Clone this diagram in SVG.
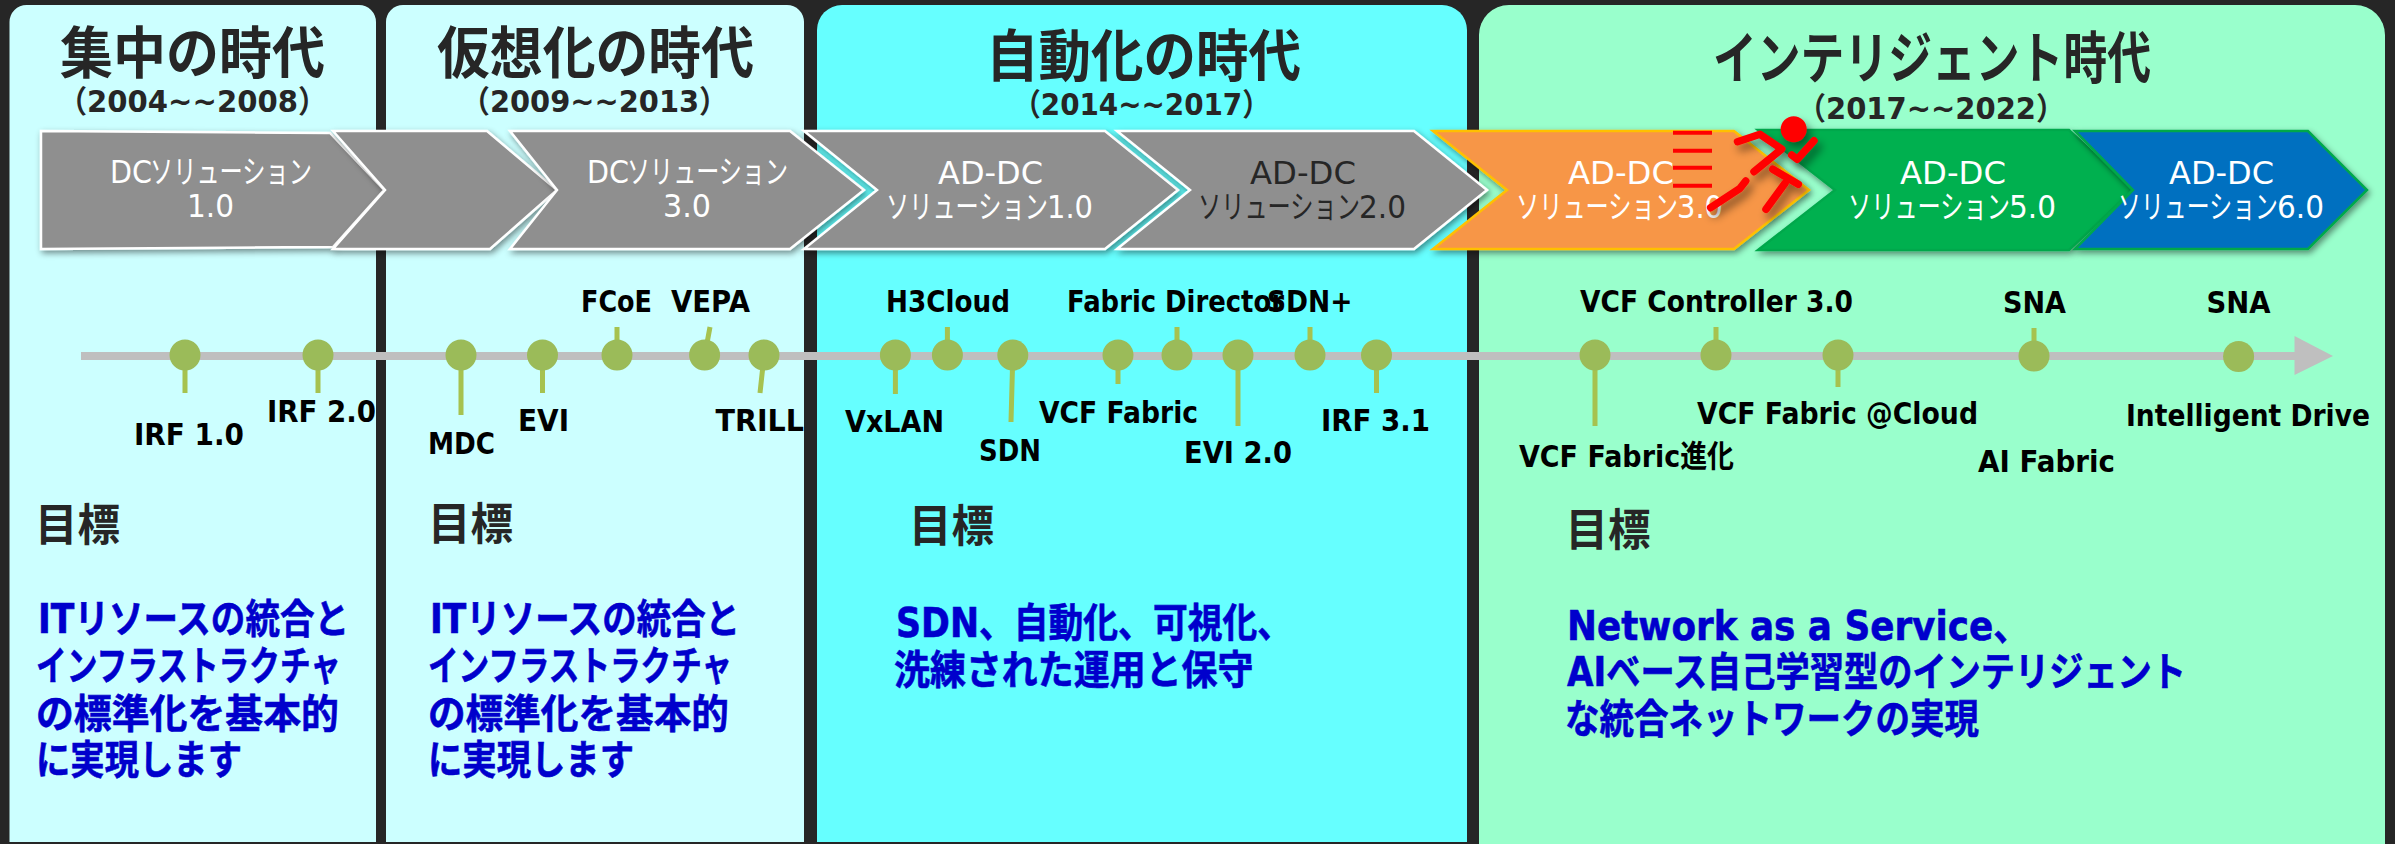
<svg xmlns="http://www.w3.org/2000/svg" width="2395" height="844" viewBox="0 0 2395 844">
<style>
text{font-family:"DejaVu Sans","Noto Sans CJK JP",sans-serif}
.title{font-family:"Noto Sans CJK JP","DejaVu Sans",sans-serif;font-weight:700;font-size:56px;fill:#262626}
.date{font-weight:700;font-size:31px;fill:#262626}
.lbl{font-weight:700;font-size:31px;fill:#000}
.goal{font-family:"Noto Sans CJK JP",sans-serif;font-weight:700;font-size:44px;fill:#262626}
.blue{font-weight:700;font-size:40px;fill:#0000cc;stroke:#0000cc;stroke-width:.6}
.cv{font-family:"DejaVu Sans","Noto Sans CJK JP",sans-serif;font-size:32px;fill:#fff}
.dark{fill:#262626}
.ch{stroke:#fff;stroke-width:2.5;stroke-linejoin:miter;fill:#8f8f8f;filter:url(#sh)}
.dot{fill:#9bbb59}
.stem{stroke:#a6c24f;stroke-width:5;fill:none}
.run{stroke:#f00;stroke-width:7.5;stroke-linecap:round;stroke-linejoin:round;fill:none}
.speed{stroke:#f00;stroke-width:4}
</style>
<defs>
<filter id="sh" x="-10%" y="-10%" width="120%" height="125%"><feDropShadow dx="2" dy="3" stdDeviation="3" flood-color="#000" flood-opacity=".45"/></filter>
<filter id="rs" x="-30%" y="-30%" width="170%" height="170%"><feDropShadow dx="4" dy="6" stdDeviation="4" flood-color="#000" flood-opacity=".45"/></filter>
</defs>
<rect id="background" width="2395" height="844" fill="#262626"/>
<g id="panels">
<path d="M9.500 842V22a17 17 0 0 1 17-17H359a17 17 0 0 1 17 17V842Z" fill="#ccffff"/>
<path d="M386 842V22a17 17 0 0 1 17-17H787a17 17 0 0 1 17 17V842Z" fill="#ccffff"/>
<path d="M817 842V30a25 25 0 0 1 25-25H1442a25 25 0 0 1 25 25V842Z" fill="#66ffff"/>
<path d="M1479 844V35a30 30 0 0 1 30-30H2355a30 30 0 0 1 30 30V844Z" fill="#99ffcc"/>
</g>
<g id="titles">
<text class="title" x="60" y="73" textLength="265" lengthAdjust="spacingAndGlyphs">集中の時代</text>
<text class="date" x="58" y="112" textLength="269" lengthAdjust="spacingAndGlyphs">（2004~~2008）</text>
<text class="title" x="437" y="73" textLength="317" lengthAdjust="spacingAndGlyphs">仮想化の時代</text>
<text class="date" x="461" y="112" textLength="267" lengthAdjust="spacingAndGlyphs">（2009~~2013）</text>
<text class="title" x="986" y="76" textLength="315" lengthAdjust="spacingAndGlyphs">自動化の時代</text>
<text class="date" x="1013" y="115" textLength="257" lengthAdjust="spacingAndGlyphs">（2014~~2017）</text>
<text class="title" x="1713" y="78" textLength="438" lengthAdjust="spacingAndGlyphs">インテリジェント時代</text>
<text class="date" x="1797" y="119" textLength="268" lengthAdjust="spacingAndGlyphs">（2017~~2022）</text>
</g>
<g id="chevron-dc1">
<polygon class="ch" points="41,131 330,133 384,190 333,247 41,249"/>
<text class="cv" y="183"><tspan x="110" textLength="42" lengthAdjust="spacingAndGlyphs">DC</tspan><tspan x="150" textLength="162" lengthAdjust="spacingAndGlyphs">ソリューション</tspan></text>
<text class="cv" x="187" y="217" textLength="47" lengthAdjust="spacingAndGlyphs">1.0</text>
</g>
<g id="chevron-dc2">
<polygon class="ch" points="333,131 487,131 557,190 490,249 333,249 385,190"/>
</g>
<g id="chevron-dc3">
<polygon class="ch" points="510,131 790,131 864,190 790,249 510,249 557,190"/>
<text class="cv" y="183"><tspan x="587" textLength="42" lengthAdjust="spacingAndGlyphs">DC</tspan><tspan x="627" textLength="161" lengthAdjust="spacingAndGlyphs">ソリューション</tspan></text>
<text class="cv" x="663" y="217" textLength="48" lengthAdjust="spacingAndGlyphs">3.0</text>
</g>
<g id="chevron-ad1">
<polygon class="ch" points="804,131 1105,131 1178,190 1105,249 804,249 877,190"/>
<text class="cv" x="938" y="184" textLength="105" lengthAdjust="spacingAndGlyphs">AD-DC</text>
<text class="cv" y="218"><tspan x="886" textLength="162" lengthAdjust="spacingAndGlyphs">ソリューション</tspan><tspan x="1047" textLength="46" lengthAdjust="spacingAndGlyphs">1.0</tspan></text>
</g>
<g id="chevron-ad2">
<polygon class="ch" points="1117,131 1414,131 1487,190 1414,249 1117,249 1190,190"/>
<text class="cv dark" x="1250" y="184" textLength="106" lengthAdjust="spacingAndGlyphs">AD-DC</text>
<text class="cv dark" y="218"><tspan x="1198" textLength="162" lengthAdjust="spacingAndGlyphs">ソリューション</tspan><tspan x="1359" textLength="47" lengthAdjust="spacingAndGlyphs">2.0</tspan></text>
</g>
<g id="chevron-ad3">
<polygon class="ch" style="fill:#f79646;stroke:#ffc000" points="1433,131 1734,131 1809,190 1734,249 1433,249 1507,190"/>
<text class="cv" x="1568" y="184" textLength="106" lengthAdjust="spacingAndGlyphs">AD-DC</text>
<text class="cv" y="218"><tspan x="1516" textLength="162" lengthAdjust="spacingAndGlyphs">ソリューション</tspan><tspan x="1677" textLength="46" lengthAdjust="spacingAndGlyphs">3.0</tspan></text>
</g>
<g id="chevron-ad5">
<polygon class="ch" style="fill:#00b050;stroke:#00a84c" points="1758,130 2069,130 2133,190 2069,250 1758,250 1835,190"/>
<text class="cv" x="1900" y="184" textLength="106" lengthAdjust="spacingAndGlyphs">AD-DC</text>
<text class="cv" y="218"><tspan x="1848" textLength="162" lengthAdjust="spacingAndGlyphs">ソリューション</tspan><tspan x="2009" textLength="47" lengthAdjust="spacingAndGlyphs">5.0</tspan></text>
</g>
<g id="chevron-ad6">
<polygon class="ch" style="fill:#0070c0;stroke:#00a84c" points="2075,131 2308,131 2367,190 2308,249 2075,249 2133,190"/>
<text class="cv" x="2169" y="184" textLength="105" lengthAdjust="spacingAndGlyphs">AD-DC</text>
<text class="cv" y="218"><tspan x="2118" textLength="160" lengthAdjust="spacingAndGlyphs">ソリューション</tspan><tspan x="2277" textLength="47" lengthAdjust="spacingAndGlyphs">6.0</tspan></text>
</g>
<g id="runner">
<path class="speed" d="M1673 132.700H1712M1673 150.700H1712M1673 167.700H1712M1673 185.700H1712"/>
<g filter="url(#rs)">
<ellipse cx="1793.700" cy="129.300" rx="13" ry="13" fill="#f00"/>
<path class="run" d="M1737.500 141.700L1760 134.300L1781.700 149L1754 171.700"/>
<path class="run" d="M1791.700 155L1797.300 159.300L1814 140.700"/>
<path class="run" d="M1745.700 181L1740 188.300L1710.700 207.700"/>
<path class="run" d="M1772.700 169.300L1798.300 184.300M1785 183.300L1766 209.300"/>
</g>
</g>
<g id="connectors">
<rect x="81" y="352" width="2215" height="8" fill="#bfbfbf"/>
<polygon points="2294.500,336 2333,356 2294.500,375" fill="#bfbfbf"/>
<path class="stem" d="M185 356V393M318 356V393M461 356V415M542.500 356V393M617 356V327M704.600 356L710 327M764 356L760 393"/>
<path class="stem" d="M895.400 356V394M947.400 356V327M1012.800 356L1011 422M1118 356V384M1177 356V327M1238 356V426M1310 356V327M1376.500 356V393"/>
<path class="stem" d="M1595 356V426M1716 356V327M1838 356V387M2034 356V328"/>
</g>
<g id="ev-irf10"><ellipse class="dot" cx="185" cy="355" rx="15.500" ry="15.500"/><text class="lbl" x="134" y="445" textLength="110" lengthAdjust="spacingAndGlyphs">IRF 1.0</text></g>
<g id="ev-irf20"><ellipse class="dot" cx="318" cy="355" rx="15.500" ry="15.500"/><text class="lbl" x="267" y="421.700" textLength="109" lengthAdjust="spacingAndGlyphs">IRF 2.0</text></g>
<g id="ev-mdc"><ellipse class="dot" cx="461" cy="355" rx="15.500" ry="15.500"/><text class="lbl" x="428" y="454" textLength="67" lengthAdjust="spacingAndGlyphs">MDC</text></g>
<g id="ev-evi"><ellipse class="dot" cx="542.500" cy="355" rx="15.500" ry="15.500"/><text class="lbl" x="518" y="430.700" textLength="51" lengthAdjust="spacingAndGlyphs">EVI</text></g>
<g id="ev-fcoe"><ellipse class="dot" cx="617" cy="355" rx="15.500" ry="15.500"/><text class="lbl" x="581" y="312" textLength="71" lengthAdjust="spacingAndGlyphs">FCoE</text></g>
<g id="ev-vepa"><ellipse class="dot" cx="704.600" cy="355" rx="15.500" ry="15.500"/><text class="lbl" x="671" y="312" textLength="79" lengthAdjust="spacingAndGlyphs">VEPA</text></g>
<g id="ev-trill"><ellipse class="dot" cx="764" cy="355" rx="15.500" ry="15.500"/><text class="lbl" x="715.500" y="431" textLength="88.500" lengthAdjust="spacingAndGlyphs">TRILL</text></g>
<g id="ev-vxlan"><ellipse class="dot" cx="895.400" cy="355" rx="15.500" ry="15.500"/><text class="lbl" x="845" y="431.700" textLength="99" lengthAdjust="spacingAndGlyphs">VxLAN</text></g>
<g id="ev-h3cloud"><ellipse class="dot" cx="947.400" cy="355" rx="15.500" ry="15.500"/><text class="lbl" x="886" y="311.700" textLength="124" lengthAdjust="spacingAndGlyphs">H3Cloud</text></g>
<g id="ev-sdn"><ellipse class="dot" cx="1012.800" cy="355" rx="15.500" ry="15.500"/><text class="lbl" x="979" y="460.700" textLength="62" lengthAdjust="spacingAndGlyphs">SDN</text></g>
<g id="ev-vcffabric"><ellipse class="dot" cx="1118" cy="355" rx="15.500" ry="15.500"/><text class="lbl" x="1039" y="422.700" textLength="159" lengthAdjust="spacingAndGlyphs">VCF Fabric</text></g>
<g id="ev-director"><ellipse class="dot" cx="1177" cy="355" rx="15.500" ry="15.500"/><text class="lbl" x="1067" y="312" textLength="217" lengthAdjust="spacingAndGlyphs">Fabric Director</text></g>
<g id="ev-evi20"><ellipse class="dot" cx="1238" cy="355" rx="15.500" ry="15.500"/><text class="lbl" x="1184" y="463" textLength="108" lengthAdjust="spacingAndGlyphs">EVI 2.0</text></g>
<g id="ev-sdnplus"><ellipse class="dot" cx="1310" cy="355" rx="15.500" ry="15.500"/><text class="lbl" x="1267" y="312" textLength="85.500" lengthAdjust="spacingAndGlyphs">SDN+</text></g>
<g id="ev-irf31"><ellipse class="dot" cx="1376.500" cy="355" rx="15.500" ry="15.500"/><text class="lbl" x="1321" y="430.700" textLength="109" lengthAdjust="spacingAndGlyphs">IRF 3.1</text></g>
<g id="ev-vcfevo"><ellipse class="dot" cx="1595" cy="355" rx="15.500" ry="15.500"/><text class="lbl" x="1519" y="466.700" textLength="215" lengthAdjust="spacingAndGlyphs">VCF Fabric進化</text></g>
<g id="ev-vcfc3"><ellipse class="dot" cx="1716" cy="355" rx="15.500" ry="15.500"/><text class="lbl" x="1580" y="311.700" textLength="273" lengthAdjust="spacingAndGlyphs">VCF Controller 3.0</text></g>
<g id="ev-vcfcloud"><ellipse class="dot" cx="1838" cy="355" rx="15.500" ry="15.500"/><text class="lbl" x="1697" y="424" textLength="281" lengthAdjust="spacingAndGlyphs">VCF Fabric @Cloud</text></g>
<g id="ev-sna1"><ellipse class="dot" cx="2034" cy="356" rx="15.500" ry="15.500"/><text class="lbl" x="2003" y="312.700" textLength="63" lengthAdjust="spacingAndGlyphs">SNA</text><text class="lbl" x="1978" y="472" textLength="137" lengthAdjust="spacingAndGlyphs">AI Fabric</text></g>
<g id="ev-sna2"><ellipse class="dot" cx="2238.600" cy="356.500" rx="15.500" ry="15.500"/><text class="lbl" x="2206.600" y="312.700" textLength="64" lengthAdjust="spacingAndGlyphs">SNA</text><text class="lbl" x="2126" y="425.700" textLength="244" lengthAdjust="spacingAndGlyphs">Intelligent Drive</text></g>
<g id="goal-1">
<text class="goal" x="35" y="541" textLength="85" lengthAdjust="spacingAndGlyphs">目標</text>
<text class="blue" x="38" y="633" textLength="311" lengthAdjust="spacingAndGlyphs">ITリソースの統合と</text>
<text class="blue" x="36" y="680" textLength="305" lengthAdjust="spacingAndGlyphs">インフラストラクチャ</text>
<text class="blue" x="36" y="728" textLength="303" lengthAdjust="spacingAndGlyphs">の標準化を基本的</text>
<text class="blue" x="36" y="774" textLength="206" lengthAdjust="spacingAndGlyphs">に実現します</text>
</g>
<g id="goal-2">
<text class="goal" x="428" y="540" textLength="85" lengthAdjust="spacingAndGlyphs">目標</text>
<text class="blue" x="430" y="633" textLength="310" lengthAdjust="spacingAndGlyphs">ITリソースの統合と</text>
<text class="blue" x="428" y="680" textLength="304" lengthAdjust="spacingAndGlyphs">インフラストラクチャ</text>
<text class="blue" x="428" y="728" textLength="301" lengthAdjust="spacingAndGlyphs">の標準化を基本的</text>
<text class="blue" x="428" y="774" textLength="206" lengthAdjust="spacingAndGlyphs">に実現します</text>
</g>
<g id="goal-3">
<text class="goal" x="909" y="542" textLength="85" lengthAdjust="spacingAndGlyphs">目標</text>
<text class="blue" x="896" y="637" textLength="396" lengthAdjust="spacingAndGlyphs">SDN、自動化、可視化、</text>
<text class="blue" x="894" y="684" textLength="359.500" lengthAdjust="spacingAndGlyphs">洗練された運用と保守</text>
</g>
<g id="goal-4">
<text class="goal" x="1565.500" y="546" textLength="85" lengthAdjust="spacingAndGlyphs">目標</text>
<text class="blue" x="1567" y="640" textLength="462" lengthAdjust="spacingAndGlyphs">Network as a Service、</text>
<text class="blue" x="1567" y="686" textLength="619" lengthAdjust="spacingAndGlyphs">AIベース自己学習型のインテリジェント</text>
<text class="blue" x="1565" y="733" textLength="414" lengthAdjust="spacingAndGlyphs">な統合ネットワークの実現</text>
</g>
</svg>
